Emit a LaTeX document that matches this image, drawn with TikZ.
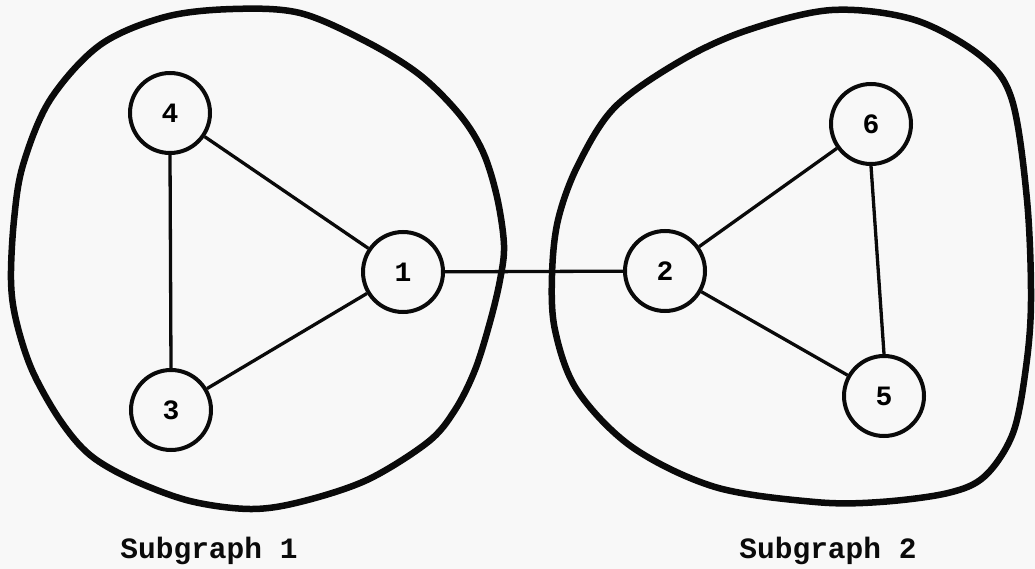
\documentclass[tikz,border=0pt]{standalone}
\usepackage{fontspec}
\newfontfamily\monob{Liberation Mono}[BoldFont={Liberation Mono Bold}]
\definecolor{paper}{RGB}{248,248,248}
\definecolor{ink}{RGB}{10,10,10}
\begin{document}
\begin{tikzpicture}[x=1pt,y=-1pt,
  vert/.style={circle,draw=ink,line width=4pt,minimum size=80pt,inner sep=0pt,
    font=\monob\bfseries\fontsize{28}{28}\selectfont,fill=paper},
  edge/.style={draw=ink,line width=3.3pt},
  blob/.style={draw=ink,line width=6.5pt,line join=round},
  caption/.style={font=\monob\bfseries\fontsize{29.5}{30}\selectfont,text=ink,inner sep=0pt}]
\fill[paper] (0,0) rectangle (1035,569);
\useasboundingbox (0,0) rectangle (1035,569);
% subgraph outlines
\draw[blob] plot[smooth cycle,tension=0.55] coordinates {
 (233,9) (300,13) (367,42) (420,75) (460,115) (483,152) (497,197) (504,245) (500,280)
 (490,322) (475,370) (455,410) (428,442) (367,480) (300,502) (250,509) (190,501)
 (133,480) (90,455) (60,420) (32,370) (16,320) (11,280) (14,220) (23,165) (50,100)
 (100,45) (165,17)};
\draw[blob] plot[smooth cycle,tension=0.55] coordinates {
 (832,10) (915,20) (982,57) (1012,100) (1027,200) (1031,300) (1026,367) (1013,433)
 (985,476) (948,493) (880,502) (815,502) (715,487) (632,447) (577,390) (555,330)
 (552,275) (558,220) (578,165) (615,107) (682,60) (748,30)};
% vertices
\node[vert] (n1) at (403,272) {1};
\node[vert] (n2) at (665,271) {2};
\node[vert] (n3) at (171,410) {3};
\node[vert] (n4) at (170,113) {4};
\node[vert] (n5) at (884,396) {5};
\node[vert] (n6) at (871,124) {6};
% edges
\draw[edge] (n4) -- (n1);
\draw[edge] (n4.south) -- (n3.north);
\draw[edge] (n3) -- (n1);
\draw[edge] (n1) -- (n2);
\draw[edge] (n2) -- (n6);
\draw[edge] (n2) -- (n5);
\draw[edge] (n6.south) -- (n5.north);
% captions
\node[caption] (c1) at (209,551) {Subgraph 1};
\node[caption] (c2) at (828,551) {Subgraph 2};
\end{tikzpicture}
\end{document}
